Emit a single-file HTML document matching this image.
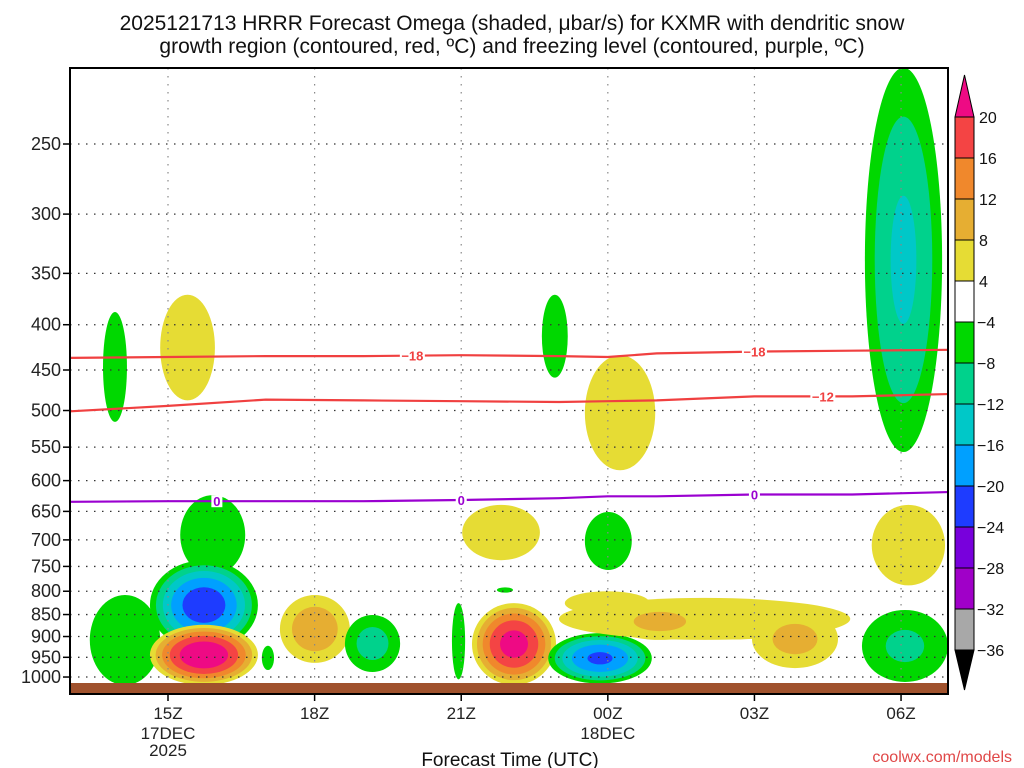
<!DOCTYPE html>
<html><head><meta charset="utf-8"><style>
body{margin:0;background:#fff}
svg{display:block;font-family:"Liberation Sans",sans-serif}
</style></head><body>
<svg id="chart" width="1024" height="768" viewBox="0 0 1024 768" xmlns="http://www.w3.org/2000/svg">
<text x="512" y="30" text-anchor="middle" font-size="21" fill="#111">2025121713 HRRR Forecast Omega (shaded, μbar/s) for KXMR with dendritic snow</text>
<text x="512" y="53" text-anchor="middle" font-size="21" fill="#111">growth region (contoured, red, ºC) and freezing level (contoured, purple, ºC)</text>
<defs><clipPath id="pc"><rect x="70" y="68" width="878" height="626"/></clipPath></defs>
<g id="fill" clip-path="url(#pc)"></g>
<g id="grid"></g>
<g id="lines" clip-path="url(#pc)"></g>
<rect x="70" y="683" width="878" height="11" fill="#a0522d"/>
<rect x="70" y="68" width="878" height="626" fill="none" stroke="#000" stroke-width="2"/>
<g id="axes"></g>
<g id="cbar"></g>
<text x="510" y="766" text-anchor="middle" font-size="19" fill="#111">Forecast Time (UTC)</text>
<text x="1012" y="762" text-anchor="end" font-size="16" fill="#e04848">coolwx.com/models</text>
</svg>
<script>
// ---- data ----
const xTickHours = [0, 3, 6, 9, 12, 15];
const xTickLabels = ["15Z", "18Z", "21Z", "00Z", "03Z", "06Z"];
const xTickSub1 = ["17DEC", "", "", "18DEC", "", ""];
const xTickSub2 = ["2025", "", "", "", "", ""];
const pressureTicks = [250, 300, 350, 400, 450, 500, 550, 600, 650, 700, 750, 800, 850, 900, 950, 1000];
const levelsPos = [4, 8, 12, 16, 20];
const levelsNeg = [-4, -8, -12, -16, -20, -24, -28, -32];
const colorbarLabels = [20, 16, 12, 8, 4, -4, -8, -12, -16, -20, -24, -28, -32, -36];
const bandColors = ["#f44444", "#f0882c", "#e6ae32", "#e6dc34", "#ffffff", "#00d800", "#00d28c", "#00c8c8", "#00a0ff", "#1e3cff", "#7800dc", "#a000c8", "#a8a8a8"];
// blobs: [tStart, tEnd, pTop, pBottom, peak]
const blobStart = [-1.33, -0.16, 8.53, 7.65, 14.26, 6.02, 8.53, 14.4, -1.6, 0.25, -0.37, -0.37, 1.92, 2.29, 3.62, 5.81, 6.22, 7.78, 8.0, 8.12, 9.04, 11.95, 14.2, 6.73];
const blobEnd   = [-0.84, 0.96, 9.97, 8.18, 15.84, 7.61, 9.49, 15.9, -0.16, 1.58, 1.84, 1.84, 2.17, 3.72, 4.75, 6.08, 7.94, 9.9, 13.96, 9.86, 11.09, 13.71, 15.96, 7.06];
const blobPTop  = [387, 370, 433, 370, 205, 639, 651, 639, 808, 623, 738, 873, 922, 808, 851, 825, 825, 892, 814, 800, 825, 840, 840, 792];
const blobPBot  = [515, 487, 584, 459, 557, 738, 757, 788, 1021, 767, 932, 1021, 982, 964, 987, 1006, 1021, 1017, 908, 851, 908, 977, 1013, 803];
const blobPeak  = [-5, 5.5, 6, -5, -13, 5, -5, 5, -5, -6, -23, 24, -5, 11, -10, -5, 22, -21, 6, 5, 9.5, 9.5, -9, -5];
// contour lines
const lineHours = [-2, 0, 2, 4, 6, 8, 9, 10, 12, 14, 16, 17];
const dgzMinus18 = [436, 435, 434, 434, 433, 434, 435, 431, 429, 428, 427, 426];
const dgzMinus12 = [501, 494, 486, 487, 488, 489, 488, 487, 482, 482, 479, 478];
const freezing0  = [634, 633, 633, 633, 631, 628, 625, 625, 622, 622, 618, 618];
const labels18Hours = [5, 12]; const labels12Hours = [13.4]; const labels0Hours = [1, 6, 12];

// ---- scales ----
const X = t => 168 + t * 48.87;
const Y = p => 144 + 384.5 * Math.log(p / 250);
const NS = "http://www.w3.org/2000/svg";
function mk(tag, attrs, parent) { const e = document.createElementNS(NS, tag); for (const k in attrs) e.setAttribute(k, attrs[k]); parent.appendChild(e); return e; }
function levelColor(L) { return L >= 20 ? "#ee0a84" : bandColors[4 - L / 4]; }
// ---- shading (paraboloid profile per blob) ----
const fillG = document.getElementById("fill");
for (let i = 0; i < blobPeak.length; i++) {
  const pk = blobPeak[i], a = Math.abs(pk);
  const cx = (X(blobStart[i]) + X(blobEnd[i])) / 2, rx = (X(blobEnd[i]) - X(blobStart[i])) / 2;
  const cy = (Y(blobPTop[i]) + Y(blobPBot[i])) / 2, ry = (Y(blobPBot[i]) - Y(blobPTop[i])) / 2;
  const r4 = Math.sqrt(1 - 4 / a);
  const lv = pk > 0 ? levelsPos : levelsNeg;
  for (const L of lv) {
    if (Math.abs(L) >= a) break;
    const s = Math.sqrt(1 - Math.abs(L) / a) / r4;
    const e = mk("ellipse", { cx: cx, cy: cy, rx: rx * s, ry: ry * s, fill: levelColor(L) }, fillG);
    
    
  }
}
// ---- grid & axes ----
const grid = document.getElementById("grid"), axes = document.getElementById("axes");
pressureTicks.forEach(p => {
  const y = Y(p);
  const g = mk("line", { x1: 70, x2: 948, y1: y, y2: y, stroke: "#333", "stroke-width": 1.3, "stroke-dasharray": "1.5 6.5" }, grid);
  
  
  const tk = mk("line", { x1: 63, x2: 70, y1: y, y2: y, stroke: "#000", "stroke-width": 1.5 }, axes);
  
  
  const t = mk("text", { x: 61, y: y + 6, "text-anchor": "end", "font-size": 18, fill: "#222" }, axes);
  t.textContent = p;
  
  
});
xTickHours.forEach((h, i) => {
  const x = X(h);
  const g = mk("line", { x1: x, x2: x, y1: 68, y2: 694, stroke: "#888", "stroke-width": 1.2, "stroke-dasharray": "1.5 6.5" }, grid);
  
  
  const tk = mk("line", { x1: x, x2: x, y1: 694, y2: 701, stroke: "#000", "stroke-width": 1.5 }, axes);
  
  
  [[xTickLabels[i], 719], [xTickSub1[i], 739], [xTickSub2[i], 756]].forEach(([s, y]) => {
    if (!s) return;
    const t = mk("text", { x: x, y: y, "text-anchor": "middle", "font-size": 17, fill: "#222" }, axes);
    t.textContent = s;
    
    
  });
});
// ---- contour lines ----
const linesG = document.getElementById("lines");
function drawLine(vals, col, name, labHours, txt) {
  const d = vals.map((p, i) => (i ? "L" : "M") + X(lineHours[i]).toFixed(1) + " " + Y(p).toFixed(1)).join(" ");
  const pth = mk("path", { d: d, fill: "none", stroke: col, "stroke-width": 2.2 }, linesG);
  
  
  labHours.forEach(h => {
    let j = 0; while (j < lineHours.length - 2 && lineHours[j + 1] < h) j++;
    const f = (h - lineHours[j]) / (lineHours[j + 1] - lineHours[j]);
    const p = vals[j] + f * (vals[j + 1] - vals[j]);
    const x = X(h), y = Y(p);
    const w = txt.length * 7 + 4;
    const r = mk("rect", { x: x - w / 2, y: y - 6, width: w, height: 12, fill: "#fff" }, linesG);
    
    
    const t = mk("text", { x: x, y: y + 5, "text-anchor": "middle", "font-size": 13, "font-weight": "bold", fill: col }, linesG);
    t.textContent = txt;
    
    
  });
}
drawLine(dgzMinus18, "#f04040", "minus18-contour", labels18Hours, "\u221218");
drawLine(dgzMinus12, "#f04040", "minus12-contour", labels12Hours, "\u221212");
drawLine(freezing0, "#9a00d0", "freezing-level-contour", labels0Hours, "0");
// ---- colorbar ----
const cb = document.getElementById("cbar");
const cbx = 955, cbw = 19, cbTop = 117, bh = 41;
const tri1 = mk("polygon", { points: `${cbx},${cbTop} ${cbx + cbw},${cbTop} ${cbx + cbw / 2},${cbTop - 42}`, fill: "#ee0a84", stroke: "#000", "stroke-width": 1 }, cb);


bandColors.forEach((c, i) => {
  const r = mk("rect", { x: cbx, y: cbTop + i * bh, width: cbw, height: bh, fill: c, stroke: "#000", "stroke-width": 1 }, cb);
  
  
});
const yb = cbTop + bandColors.length * bh;
const tri2 = mk("polygon", { points: `${cbx},${yb} ${cbx + cbw},${yb} ${cbx + cbw / 2},${yb + 40}`, fill: "#000", stroke: "#000", "stroke-width": 1 }, cb);


colorbarLabels.forEach((v, i) => {
  const t = mk("text", { x: v < 0 ? 977 : 979, y: cbTop + i * bh + 6, "font-size": 16, fill: "#111" }, cb);
  t.textContent = v < 0 ? "\u2212" + (-v) : String(v);
  
  
});
</script>
</body></html>
